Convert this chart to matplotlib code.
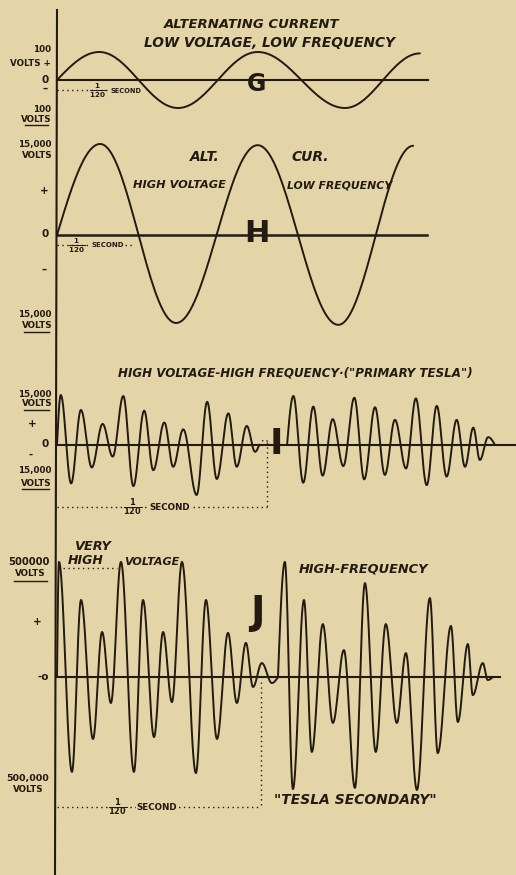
import numpy as np
import matplotlib
matplotlib.use('Agg')
import matplotlib.pyplot as plt
from matplotlib.lines import Line2D

W, H = 516, 875
BG = '#e3d5a8'
INK = '#231a12'
PERIOD_MS = 1000 / 120  # the "1/120 second" mark

# --- G: alternating current, low voltage, low frequency (volts vs ms)
g_t = [0, 4.4, 12.6, 20.9, 30.0, 37.8]
g_v = [0, 100, -100, 100, -100, 95]
g_zero_end = 38.6

# --- H: alternating current, high voltage, low frequency (kV vs ms)
h_t = [0, 4.5, 12.4, 20.9, 29.3, 37.1]
h_v = [0, 15.0, -14.5, 14.8, -14.8, 14.7]
h_zero_end = 38.5

# --- I: high voltage, high frequency, primary Tesla (kV vs ms)
i1_t = [0, 0.15, 0.56, 0.95, 1.38, 1.81, 2.21, 2.63, 3.03, 3.46, 3.82, 4.26,
        4.61, 5.01, 5.54, 5.96, 6.34, 6.80, 7.13, 7.53, 7.86, 8.02]
i1_v = [0, 14.7, -11.3, 10.3, -6.6, 6.2, -3.4, 14.4, -12.1, 10.1, -7.4, 6.6,
        -6.4, 4.6, -14.7, 12.7, -10.0, 9.3, -6.4, 5.6, -2.0, 0]
i_gap_t = [8.02, 8.25, 8.45]
i_gap_v = [0, 1.5, 0]
i2_t = [9.13, 9.38, 9.77, 10.17, 10.54, 10.94, 11.36, 11.80, 12.19, 12.62,
        13.01, 13.41, 13.85, 14.24, 14.67, 15.07, 15.46, 15.86, 16.19, 16.52,
        16.78, 17.11, 17.38]
i2_v = [0, 14.4, -11.1, 11.3, -9.0, 7.6, -6.2, 13.9, -10.1, 11.1, -8.8, 7.4,
        -6.9, 13.7, -11.8, 11.5, -9.3, 7.4, -6.4, 5.1, -4.4, 2.3, 0]
i_zero_end = 18.2

# --- J: very high voltage, high frequency, Tesla secondary (kV vs ms)
j1_t = [0, 0.08, 0.61, 0.98, 1.47, 1.84, 2.20, 2.61, 3.14, 3.51, 3.96, 4.33,
        4.69, 5.10, 5.67, 6.08, 6.53, 6.98, 7.34, 7.71, 8.00, 8.36, 8.77, 9.02]
j1_v = [0, 496, -409, 332, -267, 194, -112, 496, -409, 332, -259, 194,
        -108, 496, -414, 332, -267, 190, -112, 147, -43, 60, -26, 0]
j2_t = [9.02, 9.30, 9.63, 10.08, 10.40, 10.85, 11.26, 11.71, 12.16, 12.57,
        13.01, 13.42, 13.87, 14.24, 14.69, 15.22, 15.54, 16.08, 16.36, 16.77,
        16.97, 17.38, 17.58, 17.79]
j2_v = [0, 496, -483, 332, -323, 228, -198, 116, -478, 405, -323, 228,
        -198, 103, -487, 340, -328, 220, -194, 142, -78, 60, -13, 0]
j_zero_end = 18.1


def wave(t, v, n=40):
    # join successive extremes with smooth half-wave arcs
    xs, ys = [t[0]], [v[0]]
    for t0, v0, t1, v1 in zip(t[:-1], v[:-1], t[1:], v[1:]):
        s = np.linspace(0, 1, n)[1:]
        if v0 == 0:
            y = v1 * np.sin(np.pi / 2 * s)
        elif v1 == 0:
            y = v0 * np.cos(np.pi / 2 * s)
        else:
            y = v0 + (v1 - v0) * (1 - np.cos(np.pi * s)) / 2
        xs.extend(t0 + (t1 - t0) * s)
        ys.extend(y)
    return np.array(xs), np.array(ys)


def panel(fig, top, bot, zero, px_per_v, px_per_ms, x0=57):
    ax = fig.add_axes([0, 1 - bot / H, 1, (bot - top) / H])
    ax.set_xlim(-x0 / px_per_ms, (W - x0) / px_per_ms)
    ax.set_ylim(-(bot - zero) / px_per_v, (zero - top) / px_per_v)
    ax.axis('off')
    return ax


def txt(fig, x, y, s, size, italic=False, ha='center', **kw):
    fig.text(x / W, 1 - y / H, s, fontsize=size, fontweight='bold',
             fontstyle='italic' if italic else 'normal', color=INK,
             ha=ha, va='center', family='DejaVu Sans', **kw)


def uline(fig, x0, x1, y, lw=1.0):
    fig.add_artist(Line2D([x0 / W, x1 / W], [1 - y / H, 1 - y / H], color=INK, lw=lw))


def main():
    plt.rcParams['mathtext.fontset'] = 'dejavusans'
    plt.rcParams['mathtext.default'] = 'bf'
    fig = plt.figure(figsize=(W / 100, H / 100), dpi=100, facecolor=BG)
    dots = dict(color=INK, lw=1.0, linestyle=(0, (1, 2.5)), clip_on=False)
    wl = dict(color=INK, lw=1.4, clip_on=False, solid_capstyle='round')

    # G
    ax = panel(fig, 0, 130, 80, 0.28, 9.6)
    ax.plot([0, g_zero_end], [0, 0], color=INK, lw=1.5, clip_on=False)
    ax.plot(*wave(g_t, g_v), **wl)
    ax.plot([0, PERIOD_MS + 0.5], [-36, -36], **dots)

    # H
    ax = panel(fig, 130, 335, 235, 6.07, 9.6)
    ax.plot([0, h_zero_end], [0, 0], color=INK, lw=1.8, clip_on=False)
    ax.plot(*wave(h_t, h_v), **wl)
    ax.plot([0, PERIOD_MS - 0.3], [-1.65, -1.65], **dots)

    # I
    ax = panel(fig, 335, 530, 445, 3.4, 25.2)
    ax.plot([0, i_zero_end], [0, 0], color=INK, lw=1.5, clip_on=False)
    ax.plot(*wave(i1_t, i1_v), **wl)
    ax.plot(*wave(i_gap_t, i_gap_v), **dots)
    ax.plot(*wave(i2_t, i2_v), **wl)
    ax.plot([0, PERIOD_MS], [-18.2, -18.2], **dots)
    ax.plot([PERIOD_MS, PERIOD_MS], [0.9, -18.2], **dots)

    # J
    ax = panel(fig, 530, 875, 677, 0.232, 24.5)
    ax.plot([0, j_zero_end], [0, 0], color=INK, lw=1.5, clip_on=False)
    ax.plot(*wave(j1_t, j1_v), **wl)
    ax.plot(*wave(j2_t, j2_v), **wl)
    ax.plot([0, PERIOD_MS], [-560, -560], **dots)
    ax.plot([PERIOD_MS, PERIOD_MS], [-22, -560], **dots)
    ax.plot([0.25, 2.45], [470, 470], **dots)

    # vertical axis
    fig.add_artist(Line2D([57 / W, 55 / W], [1 - 10 / H, 0], color=INK, lw=1.5))

    # titles
    txt(fig, 252, 24, 'ALTERNATING CURRENT', 9.5, italic=True)
    txt(fig, 270, 43, 'LOW VOLTAGE, LOW FREQUENCY', 9.9, italic=True)
    txt(fig, 205, 157, 'ALT.', 10, italic=True)
    txt(fig, 310, 157, 'CUR.', 10, italic=True)
    txt(fig, 179, 185, 'HIGH VOLTAGE', 8.2, italic=True)
    txt(fig, 340, 185, 'LOW FREQUENCY', 7.8, italic=True)
    txt(fig, 295, 373, 'HIGH VOLTAGE-HIGH FREQUENCY·("PRIMARY TESLA")', 8.6, italic=True)
    txt(fig, 92, 546, 'VERY', 9.3, italic=True)
    txt(fig, 86, 561, 'HIGH', 9, italic=True)
    txt(fig, 152, 562, 'VOLTAGE', 8, italic=True)
    txt(fig, 363, 569, 'HIGH-FREQUENCY', 9.3, italic=True)
    txt(fig, 355, 800, '"TESLA SECONDARY"', 10, italic=True)

    # panel letters
    txt(fig, 257, 84, 'G', 17)
    txt(fig, 257, 233, 'H', 22)
    txt(fig, 276, 444, 'I', 26)
    txt(fig, 257, 613, 'J', 28)

    # left labels
    sm = 6.3
    txt(fig, 42, 50, '100', sm)
    txt(fig, 51, 64, 'VOLTS +', sm, ha='right')
    txt(fig, 45, 80, '0', 7.5)
    txt(fig, 45, 89, '–', 7.5)
    txt(fig, 42, 109, '100', sm)
    txt(fig, 36, 119, 'VOLTS', sm)
    uline(fig, 25, 48, 125)

    txt(fig, 35, 145, '15,000', sm)
    txt(fig, 37, 156, 'VOLTS', sm)
    txt(fig, 44, 191, '+', 7.5)
    txt(fig, 45, 234, '0', 7.5)
    txt(fig, 44, 270, '–', 7.5)
    txt(fig, 35, 315, '15,000', sm)
    txt(fig, 37, 326, 'VOLTS', sm)
    uline(fig, 24, 49, 332)

    txt(fig, 35, 394, '15,000', sm)
    txt(fig, 37, 404, 'VOLTS', sm)
    uline(fig, 24, 49, 410)
    txt(fig, 32, 424, '+', 7.5)
    txt(fig, 45, 444, '0', 7.5)
    txt(fig, 31, 455, '-', 7.5)
    txt(fig, 35, 470, '15,000', sm)
    txt(fig, 36, 483, 'VOLTS', sm)
    uline(fig, 22, 49, 489)

    txt(fig, 29, 562, '500000', 7.2)
    txt(fig, 30, 574, 'VOLTS', sm)
    uline(fig, 14, 47, 581)
    txt(fig, 37, 622, '+', 7.5)
    txt(fig, 43, 677, '-o', 7.5)
    txt(fig, 28, 779, '500,000', 6.8)
    txt(fig, 28, 790, 'VOLTS', sm)

    # 1/120 second marks
    box = dict(fc=BG, ec='none', pad=0.5)
    txt(fig, 98, 91, r'$\frac{1}{120}$', 7.5)
    txt(fig, 126, 91, 'SECOND', 4.8, bbox=box)
    txt(fig, 77, 246, r'$\frac{1}{120}$', 7.5)
    txt(fig, 108, 245, 'SECOND', 5, bbox=box)
    txt(fig, 133, 507, r'$\frac{1}{120}$', 8.5, bbox=box)
    txt(fig, 170, 508, 'SECOND', 6.3, bbox=box)
    txt(fig, 118, 807, r'$\frac{1}{120}$', 8.5, bbox=box)
    txt(fig, 157, 808, 'SECOND', 6.3, bbox=box)

    fig.savefig('out.png', dpi=100, facecolor=BG)


if __name__ == '__main__':
    main()
